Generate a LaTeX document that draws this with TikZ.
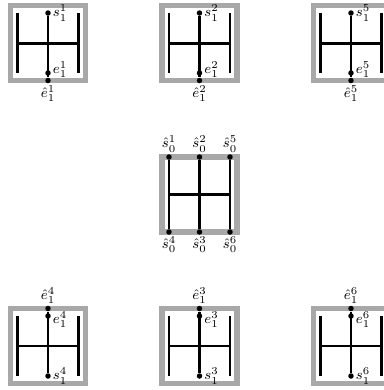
\documentclass[tikz,border=0pt]{standalone}
\usepackage{amsmath}
\usepackage{xcolor}
\usepackage{tikz}
\usetikzlibrary{positioning}
\colorlet{colorFrame}{gray!68}
\colorlet{colorBar}{black}
\tikzset{
   gadgetframe/.style={draw=colorFrame, line width=3.1pt},
   bar/.style={draw=colorBar, line width=1.7pt},
   dot/.style={circle, fill=colorBar, inner sep=0pt, minimum size=1.1mm},
   lab/.style={inner sep=0.8pt, font=\footnotesize},
}
\newcommand{\sh}{\hat{s}}
\newcommand{\eh}{\hat{e}}
\begin{document}
\begin{tikzpicture}[x=0.02cm, y=-0.02cm]
\useasboundingbox (0,0) rectangle (384,390);

% top row
\begin{scope}[shift={(48,43)}]
  \draw[gadgetframe] (-37.5,-37.5) rectangle (37.5,37.5);
  \draw[bar] (-30.5,-30) -- (-30.5,30) (30.5,-30) -- (30.5,30) (-30.5,0) -- (30.5,0);
  \node[dot] (s1) at (0,-30) {};
  \node[dot] (e1) at (0,30) {};
  \node[dot] (eh1) at (0,37.5) {};
  \draw[bar] (s1) -- (eh1);
  \node[lab, right=0pt of s1] (s1l) {$s_1^1$};
  \node[lab, right=0pt of e1, yshift=2pt] (e1l) {$e_1^1$};
  \node[lab, below=0pt of eh1] (eh1l) {$\eh_1^1$};
\end{scope}
\begin{scope}[shift={(199.5,43)}]
  \draw[gadgetframe] (-37.5,-37.5) rectangle (37.5,37.5);
  \draw[bar] (-30.5,-30) -- (-30.5,30) (30.5,-30) -- (30.5,30) (-30.5,0) -- (30.5,0);
  \node[dot] (s2) at (0,-30) {};
  \node[dot] (e2) at (0,30) {};
  \node[dot] (eh2) at (0,37.5) {};
  \draw[bar] (s2) -- (eh2);
  \node[lab, right=0pt of s2] (s2l) {$s_1^2$};
  \node[lab, right=0pt of e2, yshift=2pt] (e2l) {$e_1^2$};
  \node[lab, below=0pt of eh2] (eh2l) {$\eh_1^2$};
\end{scope}
\begin{scope}[shift={(351,43)}]
  \draw[gadgetframe] (-37.5,-37.5) rectangle (37.5,37.5);
  \draw[bar] (-30.5,-30) -- (-30.5,30) (30.5,-30) -- (30.5,30) (-30.5,0) -- (30.5,0);
  \node[dot] (s5) at (0,-30) {};
  \node[dot] (e5) at (0,30) {};
  \node[dot] (eh5) at (0,37.5) {};
  \draw[bar] (s5) -- (eh5);
  \node[lab, right=0pt of s5] (s5l) {$s_1^5$};
  \node[lab, right=0pt of e5, yshift=2pt] (e5l) {$e_1^5$};
  \node[lab, below=0pt of eh5] (eh5l) {$\eh_1^5$};
\end{scope}

% middle
\begin{scope}[shift={(199.5,194.5)}]
  \draw[gadgetframe] (-37.5,-37.5) rectangle (37.5,37.5);
  \node[dot] (t1) at (-30.5,-37.5) {};
  \node[dot] (t2) at (0,-37.5) {};
  \node[dot] (t5) at (30.5,-37.5) {};
  \node[dot] (b4) at (-30.5,37.5) {};
  \node[dot] (b3) at (0,37.5) {};
  \node[dot] (b6) at (30.5,37.5) {};
  \draw[bar] (t1) -- (b4) (t2) -- (b3) (t5) -- (b6) (-30.5,0) -- (30.5,0);
  \node[lab, above=0pt of t1] (t1l) {$\sh_0^1$};
  \node[lab, above=0pt of t2] (t2l) {$\sh_0^2$};
  \node[lab, above=0pt of t5] (t5l) {$\sh_0^5$};
  \node[lab, below=0pt of b4] (b4l) {$\sh_0^4$};
  \node[lab, below=0pt of b3] (b3l) {$\sh_0^3$};
  \node[lab, below=0pt of b6] (b6l) {$\sh_0^6$};
\end{scope}

% bottom row
\begin{scope}[shift={(48,346)}]
  \draw[gadgetframe] (-37.5,-37.5) rectangle (37.5,37.5);
  \draw[bar] (-30.5,-30) -- (-30.5,30) (30.5,-30) -- (30.5,30) (-30.5,0) -- (30.5,0);
  \node[dot] (s4) at (0,30) {};
  \node[dot] (e4) at (0,-30) {};
  \node[dot] (eh4) at (0,-37.5) {};
  \draw[bar] (s4) -- (eh4);
  \node[lab, right=0pt of s4] (s4l) {$s_1^4$};
  \node[lab, right=0pt of e4, yshift=-2pt] (e4l) {$e_1^4$};
  \node[lab, above=0pt of eh4] (eh4l) {$\eh_1^4$};
\end{scope}
\begin{scope}[shift={(199.5,346)}]
  \draw[gadgetframe] (-37.5,-37.5) rectangle (37.5,37.5);
  \draw[bar] (-30.5,-30) -- (-30.5,30) (30.5,-30) -- (30.5,30) (-30.5,0) -- (30.5,0);
  \node[dot] (s3) at (0,30) {};
  \node[dot] (e3) at (0,-30) {};
  \node[dot] (eh3) at (0,-37.5) {};
  \draw[bar] (s3) -- (eh3);
  \node[lab, right=0pt of s3] (s3l) {$s_1^3$};
  \node[lab, right=0pt of e3, yshift=-2pt] (e3l) {$e_1^3$};
  \node[lab, above=0pt of eh3] (eh3l) {$\eh_1^3$};
\end{scope}
\begin{scope}[shift={(351,346)}]
  \draw[gadgetframe] (-37.5,-37.5) rectangle (37.5,37.5);
  \draw[bar] (-30.5,-30) -- (-30.5,30) (30.5,-30) -- (30.5,30) (-30.5,0) -- (30.5,0);
  \node[dot] (s6) at (0,30) {};
  \node[dot] (e6) at (0,-30) {};
  \node[dot] (eh6) at (0,-37.5) {};
  \draw[bar] (s6) -- (eh6);
  \node[lab, right=0pt of s6] (s6l) {$s_1^6$};
  \node[lab, right=0pt of e6, yshift=-2pt] (e6l) {$e_1^6$};
  \node[lab, above=0pt of eh6] (eh6l) {$\eh_1^6$};
\end{scope}
\end{tikzpicture}
\end{document}
